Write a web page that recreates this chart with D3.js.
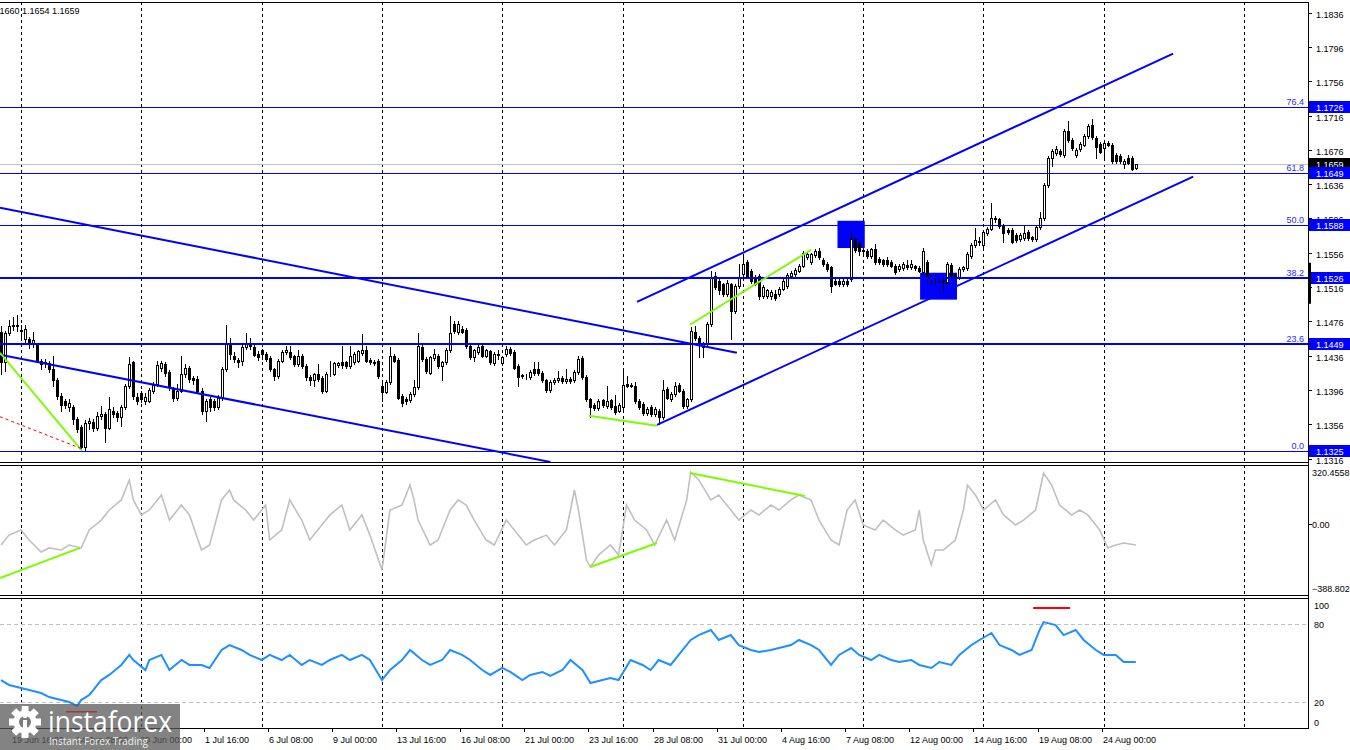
<!DOCTYPE html>
<html lang="en">
<head>
<meta charset="utf-8" />
<title>EURUSD H4</title>
<script src="https://cdn.jsdelivr.net/npm/d3@7"></script>
<style>
  html, body { margin:0; padding:0; background:#fff; }
  svg text { font-family:"Liberation Sans", Arial, sans-serif; font-size:9px; }
</style>
</head>
<body>
<div id="chart"></div>
<script>
// ---- candles (H4 bars, oldest first) ---------------------------------------
const opens = [
 1.1463,1.1428,1.1462,1.1472,1.1470,1.1466,1.1455,1.1455,1.1449,1.1449,
 1.1430,1.1428,1.1427,1.1420,1.1407,1.1389,1.1383,1.1376,1.1376,1.1362,
 1.1353,1.1329,1.1358,1.1359,1.1352,1.1366,1.1368,1.1352,1.1372,1.1369,
 1.1364,1.1376,1.1401,1.1428,1.1388,1.1392,1.1383,1.1383,1.1395,1.1403,
 1.1422,1.1426,1.1417,1.1397,1.1387,1.1395,1.1414,1.1422,1.1410,1.1409,
 1.1395,1.1372,1.1385,1.1383,1.1376,1.1387,1.1420,1.1451,1.1436,1.1431,
 1.1430,1.1446,1.1450,1.1446,1.1438,1.1442,1.1438,1.1433,1.1420,1.1412,
 1.1430,1.1440,1.1440,1.1435,1.1426,1.1436,1.1424,1.1411,1.1407,1.1415,
 1.1410,1.1395,1.1414,1.1415,1.1425,1.1428,1.1428,1.1424,1.1428,1.1430,
 1.1439,1.1443,1.1431,1.1429,1.1430,1.1400,1.1394,1.1405,1.1435,1.1431,
 1.1389,1.1386,1.1384,1.1391,1.1399,1.1446,1.1432,1.1416,1.1433,1.1436,
 1.1424,1.1428,1.1442,1.1473,1.1463,1.1467,1.1466,1.1447,1.1434,1.1440,
 1.1447,1.1436,1.1441,1.1427,1.1438,1.1427,1.1438,1.1444,1.1440,1.1424,
 1.1413,1.1412,1.1411,1.1420,1.1420,1.1416,1.1407,1.1396,1.1405,1.1407,
 1.1410,1.1406,1.1409,1.1407,1.1417,1.1433,1.1411,1.1385,1.1379,1.1375,
 1.1384,1.1377,1.1384,1.1377,1.1372,1.1376,1.1403,1.1402,1.1401,1.1383,
 1.1380,1.1369,1.1376,1.1368,1.1372,1.1364,1.1397,1.1385,1.1391,1.1402,
 1.1395,1.1377,1.1385,1.1463,1.1457,1.1446,1.1449,1.1473,1.1529,1.1523,
 1.1519,1.1508,1.1519,1.1488,1.1517,1.1531,1.1545,1.1535,1.1528,1.1529,
 1.1506,1.1505,1.1505,1.1508,1.1508,1.1514,1.1517,1.1529,1.1531,1.1535,
 1.1541,1.1551,1.1545,1.1553,1.1558,1.1548,1.1543,1.1539,1.1523,1.1523,
 1.1519,1.1523,1.1525,1.1572,1.1567,1.1559,1.1558,1.1552,1.1560,1.1549,
 1.1547,1.1547,1.1545,1.1541,1.1537,1.1538,1.1542,1.1539,1.1540,1.1538,
 1.1533,1.1545,1.1528,1.1528,1.1527,1.1524,1.1522,1.1542,1.1530,1.1527,
 1.1537,1.1538,1.1552,1.1565,1.1570,1.1565,1.1579,1.1584,1.1597,1.1595,
 1.1588,1.1583,1.1583,1.1577,1.1572,1.1573,1.1580,1.1574,1.1572,1.1586,
 1.1596,1.1635,1.1667,1.1672,1.1675,1.1670,1.1698,1.1688,1.1670,1.1677,
 1.1682,1.1692,1.1705,1.1690,1.1683,1.1678,1.1684,1.1682,1.1670,1.1669,
 1.1660,1.1667,1.1667,1.1655
];
const highs = [
 1.1470,1.1465,1.1477,1.1481,1.1483,1.1472,1.1472,1.1458,1.1463,1.1451,
 1.1432,1.1432,1.1430,1.1436,1.1410,1.1392,1.1386,1.1385,1.1379,1.1364,
 1.1355,1.1361,1.1363,1.1362,1.1370,1.1377,1.1370,1.1388,1.1376,1.1372,
 1.1378,1.1403,1.1434,1.1430,1.1392,1.1395,1.1392,1.1398,1.1405,1.1430,
 1.1430,1.1428,1.1419,1.1399,1.1403,1.1436,1.1426,1.1424,1.1412,1.1412,
 1.1398,1.1386,1.1388,1.1386,1.1390,1.1423,1.1472,1.1456,1.1440,1.1433,
 1.1448,1.1462,1.1457,1.1449,1.1441,1.1444,1.1440,1.1435,1.1421,1.1432,
 1.1443,1.1447,1.1447,1.1437,1.1442,1.1438,1.1426,1.1413,1.1416,1.1426,
 1.1412,1.1417,1.1430,1.1429,1.1429,1.1447,1.1430,1.1447,1.1440,1.1443,
 1.1461,1.1447,1.1433,1.1431,1.1432,1.1407,1.1407,1.1446,1.1438,1.1433,
 1.1391,1.1388,1.1393,1.1407,1.1462,1.1449,1.1434,1.1436,1.1444,1.1438,
 1.1430,1.1445,1.1482,1.1476,1.1476,1.1470,1.1468,1.1449,1.1444,1.1448,
 1.1449,1.1444,1.1443,1.1440,1.1442,1.1436,1.1447,1.1446,1.1442,1.1426,
 1.1415,1.1415,1.1419,1.1428,1.1428,1.1418,1.1409,1.1407,1.1410,1.1418,
 1.1412,1.1420,1.1411,1.1419,1.1436,1.1435,1.1413,1.1387,1.1381,1.1385,
 1.1386,1.1401,1.1386,1.1390,1.1381,1.1418,1.1412,1.1404,1.1405,1.1385,
 1.1382,1.1376,1.1378,1.1376,1.1374,1.1407,1.1399,1.1393,1.1405,1.1404,
 1.1397,1.1387,1.1469,1.1470,1.1459,1.1452,1.1475,1.1535,1.1533,1.1525,
 1.1521,1.1524,1.1521,1.1520,1.1543,1.1554,1.1548,1.1537,1.1530,1.1531,
 1.1518,1.1514,1.1512,1.1512,1.1516,1.1525,1.1532,1.1535,1.1538,1.1543,
 1.1558,1.1556,1.1556,1.1560,1.1561,1.1550,1.1545,1.1541,1.1525,1.1525,
 1.1525,1.1525,1.1580,1.1574,1.1569,1.1561,1.1560,1.1562,1.1566,1.1551,
 1.1549,1.1551,1.1547,1.1543,1.1543,1.1545,1.1547,1.1547,1.1542,1.1540,
 1.1561,1.1547,1.1530,1.1530,1.1529,1.1526,1.1545,1.1544,1.1532,1.1539,
 1.1541,1.1557,1.1567,1.1585,1.1574,1.1582,1.1586,1.1614,1.1599,1.1597,
 1.1590,1.1585,1.1585,1.1579,1.1579,1.1587,1.1582,1.1576,1.1588,1.1604,
 1.1637,1.1669,1.1677,1.1680,1.1677,1.1700,1.1710,1.1690,1.1678,1.1685,
 1.1694,1.1706,1.1712,1.1692,1.1685,1.1686,1.1686,1.1684,1.1672,1.1671,
 1.1665,1.1670,1.1669,1.1660
];
const lows = [
 1.1415,1.1418,1.1460,1.1466,1.1465,1.1455,1.1450,1.1445,1.1446,1.1428,
 1.1420,1.1423,1.1417,1.1400,1.1385,1.1372,1.1375,1.1372,1.1356,1.1347,
 1.1325,1.1325,1.1350,1.1348,1.1349,1.1362,1.1335,1.1350,1.1364,1.1360,
 1.1354,1.1374,1.1398,1.1386,1.1380,1.1382,1.1380,1.1382,1.1392,1.1400,
 1.1418,1.1412,1.1396,1.1383,1.1384,1.1393,1.1411,1.1405,1.1403,1.1392,
 1.1368,1.1360,1.1372,1.1373,1.1374,1.1384,1.1418,1.1432,1.1428,1.1423,
 1.1425,1.1444,1.1444,1.1435,1.1431,1.1432,1.1430,1.1418,1.1408,1.1410,
 1.1428,1.1438,1.1432,1.1424,1.1424,1.1422,1.1408,1.1402,1.1400,1.1406,
 1.1392,1.1393,1.1412,1.1413,1.1423,1.1422,1.1421,1.1422,1.1426,1.1428,
 1.1437,1.1428,1.1426,1.1425,1.1410,1.1383,1.1392,1.1403,1.1428,1.1385,
 1.1377,1.1380,1.1382,1.1389,1.1397,1.1430,1.1416,1.1414,1.1431,1.1422,
 1.1407,1.1426,1.1440,1.1462,1.1461,1.1462,1.1445,1.1432,1.1430,1.1438,
 1.1434,1.1434,1.1426,1.1425,1.1432,1.1425,1.1436,1.1437,1.1420,1.1401,
 1.1410,1.1409,1.1409,1.1413,1.1413,1.1405,1.1394,1.1394,1.1403,1.1405,
 1.1404,1.1404,1.1404,1.1405,1.1415,1.1409,1.1383,1.1364,1.1373,1.1373,
 1.1376,1.1375,1.1374,1.1368,1.1370,1.1374,1.1399,1.1399,1.1381,1.1374,
 1.1367,1.1367,1.1366,1.1366,1.1356,1.1362,1.1385,1.1383,1.1389,1.1393,
 1.1375,1.1375,1.1383,1.1454,1.1434,1.1434,1.1447,1.1471,1.1514,1.1508,
 1.1505,1.1505,1.1455,1.1486,1.1515,1.1529,1.1527,1.1521,1.1518,1.1502,
 1.1503,1.1503,1.1502,1.1501,1.1506,1.1512,1.1515,1.1527,1.1529,1.1533,
 1.1539,1.1549,1.1543,1.1551,1.1549,1.1541,1.1535,1.1510,1.1518,1.1517,
 1.1517,1.1517,1.1523,1.1557,1.1553,1.1555,1.1550,1.1550,1.1543,1.1543,
 1.1541,1.1541,1.1539,1.1531,1.1535,1.1536,1.1537,1.1537,1.1536,1.1533,
 1.1531,1.1524,1.1519,1.1520,1.1522,1.1509,1.1520,1.1526,1.1525,1.1525,
 1.1535,1.1536,1.1550,1.1563,1.1565,1.1563,1.1577,1.1582,1.1592,1.1585,
 1.1569,1.1578,1.1567,1.1568,1.1570,1.1571,1.1571,1.1570,1.1570,1.1584,
 1.1594,1.1633,1.1657,1.1670,1.1669,1.1668,1.1685,1.1676,1.1668,1.1675,
 1.1680,1.1690,1.1689,1.1667,1.1672,1.1668,1.1680,1.1661,1.1661,1.1661,
 1.1655,1.1659,1.1652,1.1654
];
const closes = [
 1.1428,1.1462,1.1471,1.1470,1.1472,1.1465,1.1467,1.1449,1.1454,1.1430,
 1.1426,1.1427,1.1420,1.1407,1.1389,1.1379,1.1379,1.1381,1.1362,1.1350,
 1.1329,1.1358,1.1360,1.1352,1.1366,1.1368,1.1352,1.1374,1.1368,1.1365,
 1.1376,1.1401,1.1426,1.1389,1.1383,1.1386,1.1388,1.1396,1.1402,1.1425,
 1.1427,1.1416,1.1399,1.1387,1.1395,1.1414,1.1421,1.1409,1.1407,1.1395,
 1.1372,1.1383,1.1376,1.1376,1.1387,1.1420,1.1451,1.1438,1.1432,1.1428,
 1.1446,1.1451,1.1447,1.1437,1.1434,1.1438,1.1432,1.1420,1.1412,1.1430,
 1.1440,1.1442,1.1434,1.1426,1.1436,1.1424,1.1411,1.1407,1.1414,1.1409,
 1.1395,1.1414,1.1415,1.1427,1.1427,1.1425,1.1424,1.1436,1.1438,1.1441,
 1.1442,1.1430,1.1429,1.1427,1.1412,1.1394,1.1405,1.1436,1.1430,1.1387,
 1.1381,1.1383,1.1391,1.1399,1.1447,1.1432,1.1418,1.1434,1.1438,1.1424,
 1.1428,1.1442,1.1462,1.1465,1.1473,1.1464,1.1447,1.1434,1.1442,1.1446,
 1.1436,1.1442,1.1428,1.1438,1.1437,1.1434,1.1444,1.1439,1.1422,1.1411,
 1.1412,1.1412,1.1417,1.1416,1.1416,1.1407,1.1396,1.1405,1.1408,1.1410,
 1.1406,1.1409,1.1406,1.1417,1.1432,1.1411,1.1385,1.1376,1.1375,1.1383,
 1.1378,1.1383,1.1376,1.1370,1.1379,1.1402,1.1401,1.1401,1.1383,1.1376,
 1.1369,1.1374,1.1368,1.1374,1.1364,1.1396,1.1387,1.1391,1.1401,1.1395,
 1.1377,1.1385,1.1465,1.1456,1.1449,1.1449,1.1473,1.1527,1.1516,1.1512,
 1.1508,1.1521,1.1488,1.1517,1.1527,1.1543,1.1529,1.1523,1.1520,1.1506,
 1.1516,1.1512,1.1510,1.1503,1.1514,1.1523,1.1530,1.1532,1.1536,1.1541,
 1.1556,1.1554,1.1554,1.1558,1.1551,1.1543,1.1537,1.1517,1.1520,1.1519,
 1.1523,1.1519,1.1572,1.1559,1.1558,1.1558,1.1552,1.1560,1.1545,1.1545,
 1.1543,1.1543,1.1541,1.1533,1.1541,1.1543,1.1539,1.1543,1.1538,1.1535,
 1.1558,1.1528,1.1527,1.1526,1.1527,1.1522,1.1543,1.1528,1.1527,1.1537,
 1.1539,1.1555,1.1565,1.1571,1.1569,1.1580,1.1584,1.1597,1.1595,1.1587,
 1.1579,1.1580,1.1569,1.1571,1.1577,1.1579,1.1573,1.1572,1.1586,1.1597,
 1.1635,1.1667,1.1675,1.1677,1.1671,1.1698,1.1687,1.1678,1.1676,1.1683,
 1.1692,1.1704,1.1691,1.1679,1.1674,1.1684,1.1682,1.1663,1.1663,1.1663,
 1.1663,1.1661,1.1654,1.1659
];
const lastPrice = 1.1659;

// ---- price axis ------------------------------------------------------------
const priceTicks = [1.1836,1.1796,1.1756,1.1716,1.1676,1.1636,1.1596,1.1556,
                    1.1516,1.1476,1.1436,1.1396,1.1356,1.1316];
const fibLevels = ["0.0","23.6","38.2","50.0","61.8","76.4"];
const fibPrices = [1.1325,1.1449,1.1526,1.1588,1.1649,1.1726];

// ---- time axis (bar index of each label) -------------------------------------
const timeLabelBars = [3,19,35,51,67,83,99,115,131,147,163,179,195,211,227,243,259,275];
const timeLabels = ["19 Jun 16:00","24 Jun 08:00","29 Jun 00:00","1 Jul 16:00","6 Jul 08:00",
  "9 Jul 00:00","13 Jul 16:00","16 Jul 08:00","21 Jul 00:00","23 Jul 16:00","28 Jul 08:00",
  "31 Jul 00:00","4 Aug 16:00","7 Aug 08:00","12 Aug 00:00","14 Aug 16:00","19 Aug 08:00",
  "24 Aug 00:00"];
const gridBars = [5,35,65,95,125,155,185,215,245,275,310];

// ---- drawn objects: [bar1, value1, bar2, value2] ----------------------------
const channelLines = [
  [-0.25,1.16085,183.5,1.14393],
  [-0.25,1.14370,137.0,1.13120],
  [163.6,1.13553,297.3,1.16447],
  [158.6,1.14988,292.3,1.17882]
];
const greenPriceLines = [
  [-0.25,1.14393,20.2,1.13250],
  [146.6,1.13658,163.6,1.13542],
  [171.8,1.14720,202.0,1.15595]
];
const redDotLine = [[-0.25,1.13647,20.2,1.13273]];
// [barFrom, barTo, priceTop, priceBottom]
const zoneBoxes = [
  [208.6,215.4,1.15933,1.15615],
  [229.2,238.4,1.15327,1.15013]
];

// ---- CCI ---------------------------------------------------------------------
const cciMax = 320.4558, cciMin = -388.8023;
const cciBars = [0,2,5,7,10,12,15,17,20,22, 25,27,30,32,33,35,37,40,42,45,
  47,50,52,55,57,58,61,63,66,67, 70,72,75,77,80,82,85,87,90,92,
  95,96,97,100,102,103,104,107,109,112, 114,116,118,121,123,126,128,131,133,136,
  138,141,143,144,146,147,149,152,154,156, 158,161,163,166,168,171,172,174,177,179,
  182,184,187,189,192,194,197,199,202,204, 207,209,211,213,215,218,220,223,225,228,
  229,230,232,233,235,238,240,241,243,245, 248,250,253,255,258,260,262,264,267,269,
  271,274,276,278,280,283];
const cciValues = [-116,-62,-34,-89,-154,-132,-143,-116,-132,-34,
  20,75,130,239,130,48,75,157,20,102,
  48,-143,-116,130,184,130,75,20,102,-89,
  -34,130,20,-89,-7,48,102,-34,48,-62,
  -252,-89,75,102,211,130,20,-116,-89,75,
  130,102,20,-89,-116,20,-34,-116,-89,-62,
  -116,-34,184,75,-198,-236,-171,-116,-171,102,
  20,-34,-116,20,-89,130,282,239,130,157,
  75,20,75,48,102,75,130,157,130,20,
  -89,-116,75,130,-7,-34,20,-34,-62,-34,
  75,-89,-225,-143,-143,-89,75,211,157,75,
  130,48,-7,20,75,277,211,102,48,75,
  48,-34,-132,-116,-105,-116];
const greenCciLines = [
  [-0.25,-296,19.7,-132],
  [146.9,-236,163.6,-105],
  [171.8,277,200.5,151]
];

// ---- oscillator 0..100 -------------------------------------------------------
const oscLevels = [80,20];
const oscTicks = [100,80,20,0];
const oscBars = [0,2,5,7,10,12,15,17,19,20, 22,23,25,27,30,32,33,36,37,40,
  42,45,47,50,52,55,57,60,62,65, 67,70,72,75,77,80,82,85,87,90,
  92,95,97,100,102,105,107,110,112,115, 117,120,122,125,127,130,132,135,137,140,
  142,145,147,150,152,154,157,160,162,164, 167,169,172,174,177,179,182,184,187,189,
  192,194,197,199,202,204,207,209,212,214, 217,219,222,224,227,229,232,234,237,239,
  242,244,247,249,252,254,257,259,260,263, 265,268,270,273,275,278,280,283];
const oscValues = [36.9,33.1,30.8,29.2,26.9,23.8,21.5,20.0,16.9,21.5,
  25.4,29.2,36.9,40.8,48.5,56.2,52.3,44.6,52.3,56.2,
  44.6,52.3,48.5,48.5,46.2,60.0,63.8,60.0,56.2,52.3,
  56.2,52.3,56.2,48.5,52.3,48.5,52.3,56.2,52.3,56.2,
  52.3,36.9,44.6,52.3,60.0,52.3,48.5,52.3,60.0,56.2,
  52.3,44.6,40.8,46.2,43.1,36.9,40.8,43.1,40.0,44.6,
  52.3,44.6,34.6,36.9,38.5,36.9,52.3,48.5,44.6,52.3,
  48.5,56.2,67.7,71.5,75.4,67.7,71.5,63.8,60.0,58.5,
  60.0,61.5,63.8,67.7,63.8,60.0,48.5,56.2,61.5,56.2,
  52.3,56.2,52.3,50.8,52.3,48.5,46.2,50.8,48.5,56.2,
  63.8,67.7,73.1,63.8,60.0,56.2,60.0,75.4,81.5,79.2,
  71.5,75.4,67.7,60.0,56.2,56.2,50.8,50.8];
const redOscLine = [257.4,266.6,92.3];

(function () {
  const W = 1350, H = 750;
  const right = 1308;
  const main = {top:2, bottom:462};
  const cci = {top:465, bottom:595};
  const osc = {top:598, bottom:728};
  const crisp = v => Math.round(v) + 0.5;

  const svg = d3.select("#chart").append("svg")
    .attr("width", W).attr("height", H).style("display","block");
  svg.append("rect").attr("width", W).attr("height", H).attr("fill", "#fff");

  // scales
  const nBars = Math.min(opens.length, highs.length, lows.length, closes.length);
  const x = d3.scaleLinear().domain([0, 283]).range([1, 1 + 283 * 4.01]);
  const y = d3.scaleLinear().domain([1.1325, 1.1726]).range([450.8, 107.0]);
  const yCci = d3.scaleLinear().domain([cciMin, cciMax]).range([cci.bottom, cci.top]);
  const yOsc = d3.scaleLinear().domain([0, 100]).range([osc.bottom, osc.top]);

  // clips
  const defs = svg.append("defs");
  [["clipMain", main], ["clipCci", cci], ["clipOsc", osc]].forEach(([id, p]) => {
    defs.append("clipPath").attr("id", id).append("rect")
      .attr("x", 0).attr("y", p.top).attr("width", right).attr("height", p.bottom - p.top);
  });

  // weekly grid
  const gGrid = svg.append("g");
  gridBars.forEach(b => {
    [main, cci, osc].forEach(p => {
      gGrid.append("line")
        .attr("x1", crisp(x(b))).attr("x2", crisp(x(b)))
        .attr("y1", p.top).attr("y2", p.bottom)
        .attr("stroke", "#000").attr("stroke-dasharray", "3,3");
    });
  });

  // oscillator levels
  oscLevels.forEach(v => {
    svg.append("line").attr("x1", 0).attr("x2", right)
      .attr("y1", crisp(yOsc(v))).attr("y2", crisp(yOsc(v)))
      .attr("stroke", "#c0c0c0").attr("stroke-dasharray", "4,3");
  });

  // ---- main panel ----
  const gMain = svg.append("g").attr("clip-path", "url(#clipMain)");

  // bid line
  gMain.append("line").attr("x1", 0).attr("x2", right)
    .attr("y1", crisp(y(lastPrice))).attr("y2", crisp(y(lastPrice)))
    .attr("stroke", "#c0c0c0");

  // zone boxes
  zoneBoxes.forEach(([b1, b2, p1, p2]) => {
    gMain.append("rect")
      .attr("x", x(b1)).attr("y", y(p1))
      .attr("width", x(b2) - x(b1)).attr("height", y(p2) - y(p1))
      .attr("fill", "#0000ff");
  });

  // candles
  const gC = gMain.append("g");
  for (let i = 0; i < nBars; i++) {
    const cx = Math.round(x(i));
    const o = opens[i], c = closes[i];
    gC.append("line")
      .attr("x1", cx + 0.5).attr("x2", cx + 0.5)
      .attr("y1", Math.round(y(highs[i]))).attr("y2", Math.round(y(lows[i])) + 1)
      .attr("stroke", "#000");
    const top = Math.round(y(Math.max(o, c)));
    const h = Math.max(0, Math.round(y(Math.min(o, c))) - top);
    gC.append("rect")
      .attr("x", cx - 0.5).attr("y", top + 0.5)
      .attr("width", 2).attr("height", h)
      .attr("fill", c < o ? "#000" : "#fff").attr("stroke", "#000");
  }

  // fibo levels
  fibPrices.forEach((p, i) => {
    const thick = (p === 1.1526 || p === 1.1449);
    gMain.append("line").attr("x1", 0).attr("x2", right)
      .attr("y1", thick ? Math.round(y(p)) : crisp(y(p)))
      .attr("y2", thick ? Math.round(y(p)) : crisp(y(p)))
      .attr("stroke", "#0000ff").attr("stroke-width", thick ? 2 : 1);
    gMain.append("text").attr("x", 1304).attr("y", Math.round(y(p)) - 2)
      .attr("text-anchor", "end").attr("fill", "#2a2aff").text(fibLevels[i]);
  });

  const seg = (g, arr, ys, color, width, dash) => {
    arr.forEach(([b1, v1, b2, v2]) => {
      const l = g.append("line")
        .attr("x1", x(b1)).attr("y1", ys(v1))
        .attr("x2", x(b2)).attr("y2", ys(v2))
        .attr("stroke", color).attr("stroke-width", width);
      if (dash) l.attr("stroke-dasharray", dash);
    });
  };
  seg(gMain, channelLines, y, "#0000ff", 2);
  seg(gMain, greenPriceLines, y, "#7cfc00", 2);
  seg(gMain, redDotLine, y, "#ff0000", 1, "3,3");

  // ---- CCI panel ----
  const gCci = svg.append("g").attr("clip-path", "url(#clipCci)");
  const cciPts = d3.zip(cciBars, cciValues);
  gCci.append("path").datum(cciPts)
    .attr("d", d3.line().x(d => x(d[0])).y(d => yCci(d[1])))
    .attr("fill", "none").attr("stroke", "#c0c0c0").attr("stroke-width", 1.6);
  seg(gCci, greenCciLines, yCci, "#7cfc00", 2);

  // ---- oscillator panel ----
  const gOsc = svg.append("g").attr("clip-path", "url(#clipOsc)");
  gOsc.append("path").datum(d3.zip(oscBars, oscValues))
    .attr("d", d3.line().x(d => x(d[0])).y(d => yOsc(d[1])))
    .attr("fill", "none").attr("stroke", "#1e90ff").attr("stroke-width", 2);
  gOsc.append("line")
    .attr("x1", x(redOscLine[0])).attr("x2", x(redOscLine[1]))
    .attr("y1", yOsc(redOscLine[2])).attr("y2", yOsc(redOscLine[2]))
    .attr("stroke", "#ff0000").attr("stroke-width", 2);

  // ---- frames ----
  const frame = svg.append("g").attr("stroke", "#000").attr("fill", "none");
  [main.top, main.bottom, cci.top, cci.bottom, osc.top, osc.bottom].forEach(v => {
    frame.append("line").attr("x1", 0).attr("x2", right + 0.5)
      .attr("y1", v + 0.5).attr("y2", v + 0.5);
  });
  frame.append("line").attr("x1", right + 0.5).attr("x2", right + 0.5)
    .attr("y1", main.top).attr("y2", osc.bottom + 1);

  // ---- right price axis ----
  const ax = svg.append("g");
  priceTicks.forEach(p => {
    const yy = Math.round(y(p));
    ax.append("line").attr("x1", right).attr("x2", right + 4)
      .attr("y1", yy + 0.5).attr("y2", yy + 0.5).attr("stroke", "#000");
    ax.append("text").attr("x", 1316).attr("y", yy + 4.5).attr("fill", "#000")
      .text(d3.format(".4f")(p));
  });
  // current price box, then fibo boxes over it
  const boxLabel = (p, fill) => {
    const yy = Math.round(y(p));
    ax.append("rect").attr("x", right + 1).attr("y", yy - 6)
      .attr("width", W - right - 1).attr("height", 12).attr("fill", fill);
    ax.append("text").attr("x", 1316).attr("y", yy + 4).attr("fill", "#fff")
      .text(d3.format(".4f")(p));
  };
  boxLabel(lastPrice, "#000");
  fibPrices.forEach(p => boxLabel(p, "#0000ff"));
  // marker on the axis
  ax.append("rect").attr("x", right).attr("y", y(1.15443))
    .attr("width", 3).attr("height", y(1.14965) - y(1.15443)).attr("fill", "#000");

  // CCI axis
  [[cciMax, d3.format(".4f")(cciMax)], [0, "0.00"], [cciMin, d3.format(".4f")(cciMin)]]
    .forEach(([v, t]) => {
      const yy = Math.round(yCci(v));
      if (v === 0) ax.append("line").attr("x1", right).attr("x2", right + 4)
        .attr("y1", yy + 0.5).attr("y2", yy + 0.5).attr("stroke", "#000");
      ax.append("text").attr("x", 1312)
        .attr("y", v === 0 ? yy + 4 : (v > 0 ? cci.top + 11 : cci.bottom - 3))
        .attr("fill", "#000").text(t);
    });

  // oscillator axis
  oscTicks.forEach(v => {
    let yy = Math.round(yOsc(v));
    if (v === 100) yy = osc.top + 7;
    if (v === 0) yy = osc.bottom - 6;
    ax.append("text").attr("x", 1314).attr("y", yy + 4).attr("fill", "#000").text(v);
  });

  // ---- time axis ----
  timeLabelBars.forEach((b, i) => {
    const xx = Math.round(x(b));
    ax.append("line").attr("x1", xx - 1.5).attr("x2", xx - 1.5)
      .attr("y1", osc.bottom).attr("y2", osc.bottom + 4).attr("stroke", "#000");
    ax.append("text").attr("x", xx - 1).attr("y", 743).attr("fill", "#000").text(timeLabels[i]);
  });

  // header
  svg.append("text").attr("x", -8).attr("y", 14).attr("fill", "#000")
    .text("1.1660 1.1654 1.1659");

  // ---- logo ----
  const logo = svg.append("g");
  logo.append("rect").attr("x", 0).attr("y", 704).attr("width", 180).attr("height", 46)
    .attr("fill", "#5a5a5a").attr("opacity", 0.75);
  const gear = logo.append("g").attr("transform", "translate(25,722)").attr("fill", "#fff");
  d3.range(8).forEach(k => {
    gear.append("rect").attr("x", -3.5).attr("y", -16).attr("width", 7).attr("height", 8)
      .attr("transform", `rotate(${k * 45})`);
  });
  gear.append("circle").attr("r", 11.5);
  gear.append("circle").attr("r", 6).attr("fill", "#7a7a7a");
  gear.append("rect").attr("x", -2).attr("y", -2).attr("width", 4).attr("height", 12).attr("fill", "#fff");
  gear.append("circle").attr("cy", -6).attr("r", 2.3).attr("fill", "#fff");
  logo.append("rect").attr("x", 66).attr("y", 711).attr("width", 31).attr("height", 1.5)
    .attr("fill", "#a03a3a");
  logo.append("text").attr("x", 48).attr("y", 732)
    .style("font-family", "'Open Sans', sans-serif").style("font-size", "29px")
    .attr("fill", "#fff").attr("textLength", 124).attr("lengthAdjust", "spacingAndGlyphs")
    .text("instaforex");
  logo.append("text").attr("x", 49).attr("y", 745)
    .style("font-family", "'Open Sans', sans-serif").style("font-size", "10.5px")
    .attr("fill", "#eee").attr("textLength", 99).attr("lengthAdjust", "spacingAndGlyphs")
    .text("Instant Forex Trading");
})();
</script>
</body>
</html>
